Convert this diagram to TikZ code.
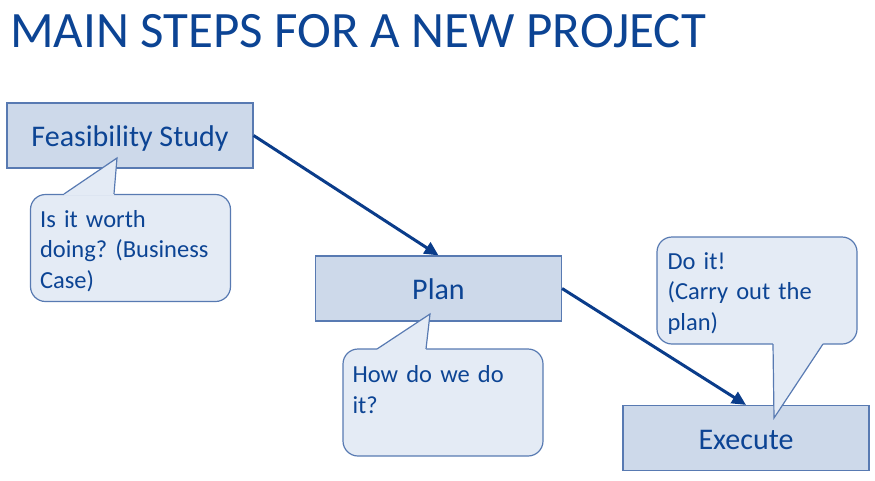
\documentclass[tikz,border=0pt]{standalone}
\usepackage{fontspec}
\setmainfont{Carlito}
\frenchspacing
\usetikzlibrary{arrows.meta, positioning}
\definecolor{stepblue}{RGB}{12,68,148}
\definecolor{arrowblue}{RGB}{10,60,138}
\definecolor{stepfill}{RGB}{205,217,234}
\definecolor{stepborder}{RGB}{88,122,178}
\definecolor{notefill}{RGB}{228,235,245}

\begin{document}
\begin{tikzpicture}[
    x=1pt, y=-1pt,
    stepbox/.style={draw=stepborder, line width=1.2pt, fill=stepfill, minimum width=246pt, minimum height=65pt, text height=25pt, text depth=3pt, font=\fontsize{30}{36}\selectfont, text=stepblue},
    balloon/.style={draw=stepborder, line width=1.2pt, fill=notefill, rounded corners=15pt, minimum width=200pt, minimum height=107pt},
    notetext/.style={text width=185pt, align=left, inner sep=0pt, font=\fontsize{24.5}{30.5}\selectfont, text=stepblue},
    arrow/.style={-{Triangle[length=14pt, width=13pt]}, line width=3pt, draw=arrowblue}
]
    \useasboundingbox (0,0) rectangle (875,480);

    \node[anchor=base west, inner sep=0pt, font=\fontsize{51}{60}\selectfont, text=stepblue] (title) at (10,47) {MAIN STEPS FOR A NEW PROJECT};

    \node[stepbox] (feas) at (130,135.5) {Feasibility Study};
    \node[stepbox] (plan) at (438.5,288.5) {Plan};
    \node[stepbox] (exec) at (746,438) {Execute};

    \draw[arrow] (feas.east) -- (plan.north);
    \draw[arrow] (plan.east) -- (exec.north);

    % speech balloons
    \node[balloon] (note1) at (130.5,248) {};
    \fill[notefill] (64,195.5) -- (64,194) -- (117,158) -- (114,194) -- (114,195.5) -- cycle;
    \draw[stepborder, line width=1.2pt] (64,194) -- (117,158) -- (114,194);
    \node[notetext, below right=16pt and 10pt of note1.north west] (text1) {Is it worth\\doing? (Business\\Case)};

    \node[balloon] (note2) at (443,402.5) {};
    \fill[notefill] (377,350.5) -- (377,349) -- (430,314) -- (426,349) -- (426,350.5) -- cycle;
    \draw[stepborder, line width=1.2pt] (377,349) -- (430,314) -- (426,349);
    \node[notetext, below right=17pt and 10pt of note2.north west] (text2) {How do we do\\it?};

    \node[balloon] (note3) at (757,290.5) {};
    \fill[notefill] (773,342.5) -- (773,344) -- (774,418) -- (823,344) -- (823,342.5) -- cycle;
    \draw[stepborder, line width=1.2pt] (773,344) -- (774,418) -- (823,344);
    \node[notetext, below right=16pt and 11pt of note3.north west] (text3) {Do it!\\(Carry out the\\plan)};
\end{tikzpicture}
\end{document}
